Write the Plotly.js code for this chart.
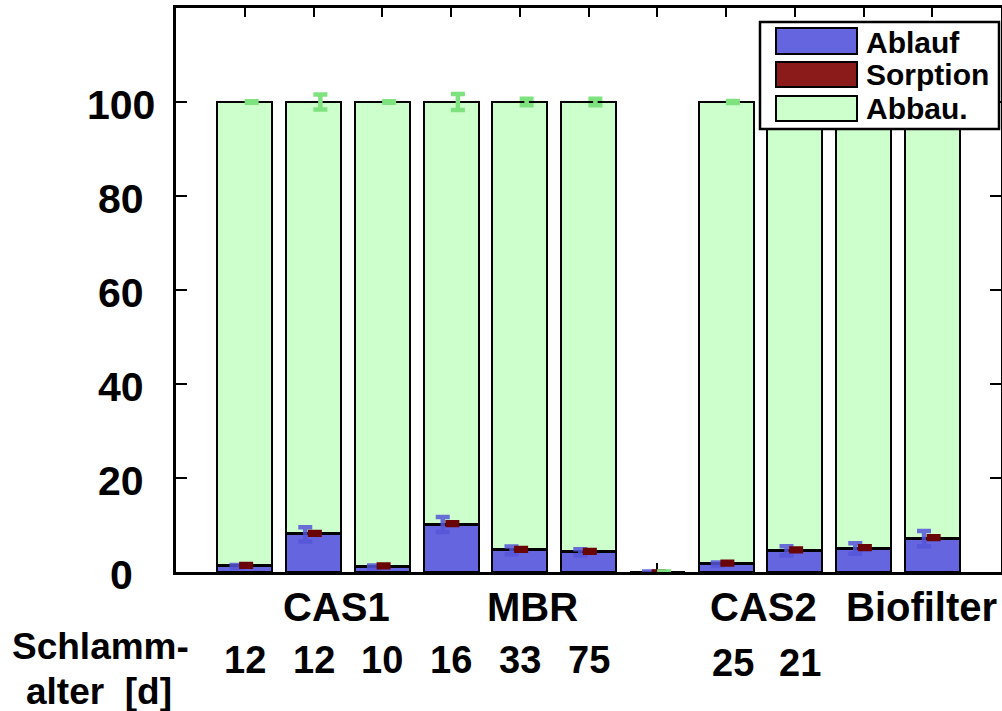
<!DOCTYPE html>
<html><head><meta charset="utf-8">
<script src="https://cdn.plot.ly/plotly-3.0.1.min.js"></script>
<style>html,body{margin:0;padding:0;background:#fff;}#chart{width:1002px;height:711px;}</style>
</head><body><div id="chart"></div>
<script>
// ---- data ----
const slots = [1, 2, 3, 4, 5, 6, 7, 8, 9, 10, 11];
const ablauf   = [1.2, 8.0, 1.1, 10.1, 4.6, 4.2, 0, 1.7, 4.5, 5.0, 7.1];
const sorption = [0.2, 0.2, 0.2, 0.2, 0.2, 0.2, 0, 0.2, 0.2, 0.2, 0.2];
const abbau    = [98.6, 91.8, 98.7, 89.7, 95.2, 95.6, 0, 98.1, 95.3, 94.8, 92.7];
const ablaufErr   = [0.3, 1.5, 0.3, 1.6, 0.8, 0.65, 0.1, 0.3, 1.0, 1.1, 1.6];
const sorptionErr = [0.3, 0.3, 0.3, 0.3, 0.3, 0.3, 0.1, 0.3, 0.3, 0.3, 0.3];
const abbauErr    = [0.15, 1.6, 0.15, 1.7, 0.7, 0.7, 0.1, 0.2, 0.5, 0.5, 0.5];
const groupLabels = ["CAS1", "MBR", "CAS2", "Biofilter"];
const groupPos    = [2.33, 5.18, 8.55, 10.85];
const ageLabels   = ["12", "12", "10", "16", "33", "75", "25", "21"];
const agePos      = [1, 2, 3, 4, 5, 6, 8.1, 9.08];
const yTicks      = [0, 20, 40, 60, 80, 100];
const seriesNames = ["Ablauf", "Sorption", "Abbau."];

// ---- styles ----
const FONT = "Liberation Sans, Arial, sans-serif";
const cBlue = "#6565e0", cRed = "#8b1a1a", cGreen = "#ccffcc";
const eBlue = "rgba(85,85,215,0.85)", eRed = "#6a0505", eGreen = "#7ee27e";

const top1 = ablauf.slice();
const top2 = ablauf.map((v, i) => v + sorption[i]);
const top3 = ablauf.map((v, i) => v + sorption[i] + abbau[i]);

function barTrace(name, y, color) {
  return {type: "bar", name: name, x: slots, y: y, width: 0.8,
    marker: {color: color, line: {color: "#000", width: 2}}, showlegend: false};
}
function errTrace(y, err, dx, color) {
  return {type: "scatter", mode: "markers", x: slots.map(s => s + dx), y: y,
    marker: {size: 1, color: "rgba(0,0,0,0)"}, showlegend: false, hoverinfo: "skip",
    error_y: {type: "data", array: err, visible: true, color: color, thickness: 4.5, width: 7}};
}

const data = [
  barTrace("Ablauf", ablauf, cBlue),
  barTrace("Sorption", sorption, cRed),
  barTrace("Abbau.", abbau, cGreen),
  errTrace(top1, ablaufErr, -0.12, eBlue),
  errTrace(top2, sorptionErr, 0.02, eRed),
  errTrace(top3, abbauErr, 0.1, eGreen)
];

const W = 825, H = 564, L = 176, T = 8;
const px = v => (v - L) / W;
const py = v => (T + H - v) / H;

const shapes = [];
const annotations = [];
// legend box
shapes.push({type: "rect", xref: "paper", yref: "paper", x0: px(760), x1: px(999), y0: py(129), y1: py(22),
  fillcolor: "#fff", line: {color: "#000", width: 2.5}, layer: "above"});
const swY = [[28, 54], [62, 87], [96, 121]];
const swC = [cBlue, cRed, cGreen];
const txY = [42, 75, 108];
for (let i = 0; i < 3; i++) {
  shapes.push({type: "rect", xref: "paper", yref: "paper", x0: px(776), x1: px(857), y0: py(swY[i][1]), y1: py(swY[i][0]),
    fillcolor: swC[i], line: {color: "#000", width: 2}, layer: "above"});
  annotations.push({xref: "paper", yref: "paper", x: px(864), y: py(txY[i]), xanchor: "left", yanchor: "middle",
    text: "<b>" + seriesNames[i] + "</b>", showarrow: false, font: {family: FONT, size: 30, color: "#000"}});
}
// y tick labels (centered column, as in the original)
yTicks.forEach(v => annotations.push({xref: "paper", yref: "y", x: px(121), y: v, yshift: -3,
  xanchor: "center", yanchor: "middle", text: "<b>" + v + "</b>", showarrow: false,
  font: {family: FONT, size: 41, color: "#000"}}));
// group labels
groupLabels.forEach((t, i) => annotations.push({xref: "x", yref: "paper", x: groupPos[i], y: py(607),
  xanchor: "center", yanchor: "middle", text: "<b>" + t + "</b>", showarrow: false,
  font: {family: FONT, size: 40, color: "#000"}}));
// sludge ages
ageLabels.forEach((t, i) => annotations.push({xref: "x", yref: "paper", x: agePos[i], y: py(i < 6 ? 660 : 663),
  xanchor: "center", yanchor: "middle", text: "<b>" + t + "</b>", showarrow: false,
  font: {family: FONT, size: 38, color: "#000"}}));
annotations.push({xref: "paper", yref: "paper", x: px(100), y: py(647), xanchor: "center", yanchor: "middle",
  text: "<b>Schlamm-</b>", showarrow: false, font: {family: FONT, size: 37, color: "#000"}});
annotations.push({xref: "paper", yref: "paper", x: px(99), y: py(691), xanchor: "center", yanchor: "middle",
  text: "<b>alter\u00a0\u00a0[d]</b>", showarrow: false, font: {family: FONT, size: 37, color: "#000"}});

const layout = {
  width: 1002, height: 711,
  margin: {l: L, r: 1002 - L - W, t: T, b: 711 - T - H, pad: 0},
  paper_bgcolor: "#fff", plot_bgcolor: "#fff",
  barmode: "stack", showlegend: false,
  xaxis: {range: [0, 12], tickmode: "linear", tick0: 0, dtick: 1, ticks: "inside", ticklen: 9, tickwidth: 2,
    tickcolor: "#000", showticklabels: false, showgrid: false, zeroline: false,
    showline: true, linecolor: "#000", linewidth: 3, mirror: "ticks", layer: "below traces"},
  yaxis: {range: [0, 120], tickmode: "array", tickvals: yTicks,
    ticks: "inside", ticklen: 11, tickwidth: 2, tickcolor: "#000", showticklabels: false,
    showgrid: false, zeroline: false,
    showline: true, linecolor: "#000", linewidth: 3, mirror: "ticks", layer: "below traces"},
  shapes: shapes, annotations: annotations
};
Plotly.newPlot("chart", data, layout, {displayModeBar: false, staticPlot: true});
</script>
</body></html>
